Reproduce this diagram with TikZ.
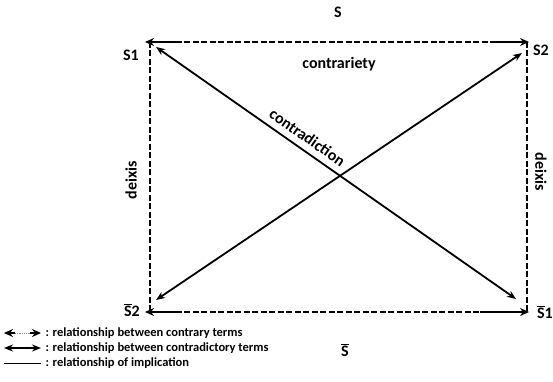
\documentclass[tikz,border=0pt]{standalone}
\usepackage{fontspec}
\setmainfont{Carlito}
\usetikzlibrary{arrows.meta}
\newcommand\ovl[1]{$\overline{\mbox{#1}}$}
\begin{document}
\begin{tikzpicture}[x=1pt,y=1pt, font=\bfseries\fontsize{16}{18}\selectfont,
  dashline/.style={line width=2.4pt, dash pattern=on 6pt off 2.5pt},
  solidend/.style={line width=2.4pt},
  contra/.style={line width=1.8pt, {Stealth[length=9pt,width=7pt]}-{Stealth[length=9pt,width=7pt]}},
  tip/.style={-{Stealth[length=9pt,width=8pt]}},
  legendtext/.style={anchor=west, font=\bfseries\fontsize{12.5}{14}\selectfont}]
\useasboundingbox (0,0) rectangle (553,382);

% corners of the square
\coordinate (tl) at (150,340);
\coordinate (tr) at (527,340);
\coordinate (bl) at (150,70);
\coordinate (br) at (527,70);

% contrary relations (dashed, arrows at both ends)
\draw[dashline] (tl) -- (tr);
\draw[dashline] (bl) -- (br);
\draw[solidend,tip] (180,340) -- (145,340);
\draw[solidend,tip] (490,340) -- (529,340);
\draw[solidend,tip] (180,70) -- (145,70);
\draw[solidend,tip] (480,70) -- (529,70);

% deixis (implication)
\draw[dashline] (tl) -- (bl);
\draw[dashline] (tr) -- (br);

% contradictions
\coordinate (d1a) at (156,335);
\coordinate (d1b) at (516,83);
\coordinate (d2a) at (156,82);
\coordinate (d2b) at (522,329);
\draw[contra] (d1a) -- (d1b)
  node[pos=0.4, sloped, above=3pt] (contradiction) {contradiction};
\draw[contra] (d2a) -- (d2b);

% term labels
\node (s) at (338,370) {S};
\node (s1) at (131,327) {S1};
\node (s2) at (541,332) {S2};
\node (s2bar) at (132,72) {\ovl{S}2};
\node (s1bar) at (545,70) {\ovl{S}1};
\node (sbar) at (345,32) {\ovl{S}};
\node (contrariety) at (339,318) {contrariety};
\node[rotate=90] (deixisl) at (131,202) {deixis};
\node[rotate=-90] (deixisr) at (541,210) {deixis};

% legend
\draw[solidend,tip] (15,49) -- (4,49);
\draw[solidend,tip] (30,49) -- (41,49);
\draw[black!45, line width=0.6pt, dash pattern=on 1pt off 0.8pt] (15,49) -- (30,49);
\draw[contra] (4,34) -- (41,34);
\draw[line width=0.9pt] (4,19) -- (41,19);
\node[legendtext] (leg1) at (42,49) {: relationship between contrary terms};
\node[legendtext] (leg2) at (42,34) {: relationship between contradictory terms};
\node[legendtext] (leg3) at (42,19) {: relationship of implication};
\end{tikzpicture}
\end{document}
